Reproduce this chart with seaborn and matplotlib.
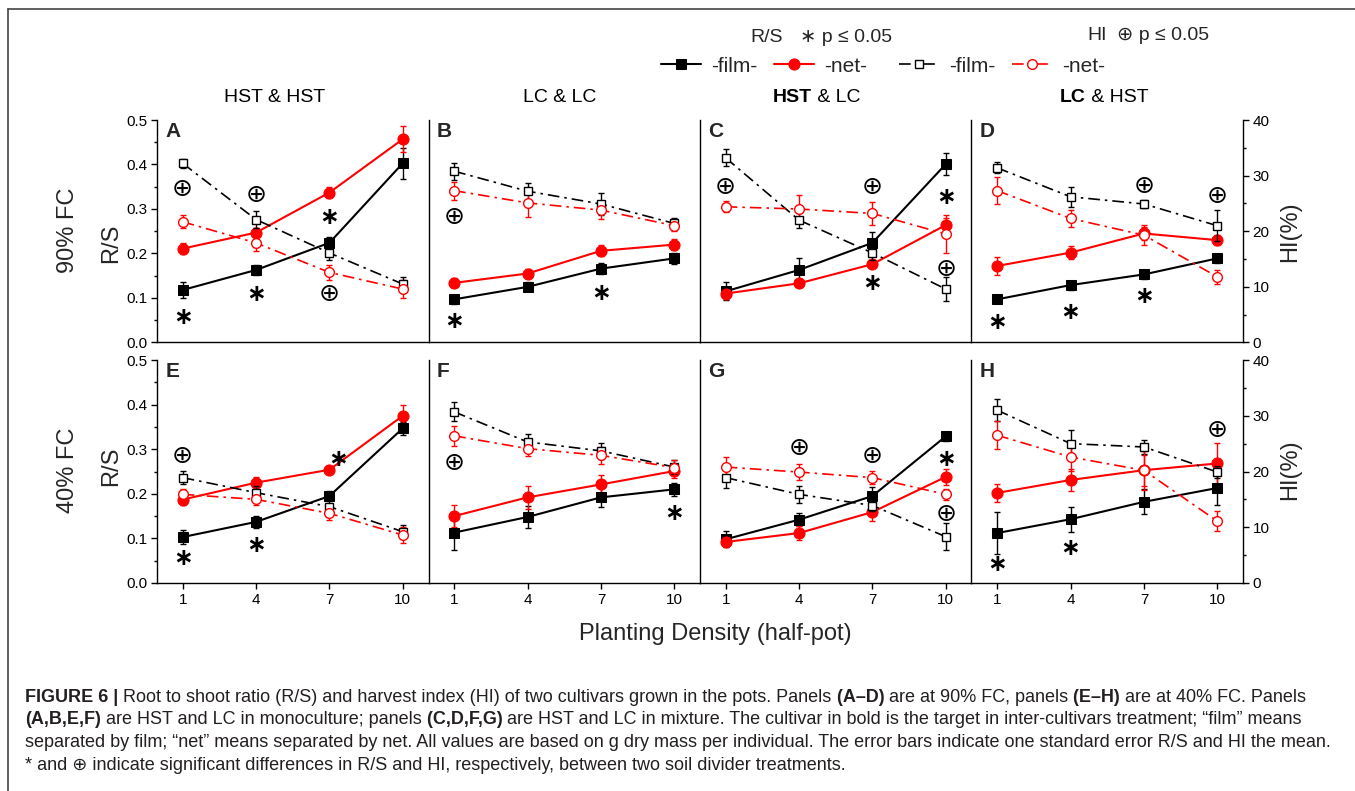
import seaborn as sns
import matplotlib.pyplot as plt
from matplotlib.lines import Line2D
from matplotlib.ticker import MultipleLocator

# planting density (half-pot) and panels A-H
density = [1, 4, 7, 10]
panel_letters = ["A", "B", "C", "D", "E", "F", "G", "H"]
col_titles = [[("HST & HST", False)], [("LC & LC", False)],
              [("HST", True), (" & LC", False)], [("LC", True), (" & HST", False)]]

# root/shoot ratio, one row per panel
rs_film = [
    [0.118, 0.163, 0.224, 0.403],
    [0.097, 0.125, 0.166, 0.189],
    [0.115, 0.163, 0.224, 0.401],
    [0.097, 0.129, 0.153, 0.189],
    [0.103, 0.137, 0.195, 0.347],
    [0.113, 0.148, 0.192, 0.210],
    [0.098, 0.142, 0.195, 0.329],
    [0.112, 0.143, 0.182, 0.213],
]
rs_film_se = [
    [0.018, 0.012, 0.012, 0.035],
    [0.010, 0.010, 0.012, 0.012],
    [0.020, 0.026, 0.025, 0.025],
    [0.008, 0.010, 0.010, 0.010],
    [0.015, 0.013, 0.012, 0.015],
    [0.038, 0.025, 0.022, 0.015],
    [0.018, 0.015, 0.020, 0.010],
    [0.047, 0.028, 0.028, 0.039],
]
rs_net = [
    [0.211, 0.247, 0.337, 0.457],
    [0.134, 0.155, 0.206, 0.220],
    [0.110, 0.133, 0.176, 0.264],
    [0.172, 0.202, 0.245, 0.230],
    [0.187, 0.225, 0.254, 0.375],
    [0.150, 0.192, 0.221, 0.251],
    [0.092, 0.112, 0.159, 0.238],
    [0.202, 0.231, 0.253, 0.268],
]
rs_net_se = [
    [0.012, 0.010, 0.012, 0.030],
    [0.010, 0.010, 0.012, 0.012],
    [0.010, 0.005, 0.008, 0.015],
    [0.020, 0.015, 0.015, 0.012],
    [0.012, 0.012, 0.008, 0.023],
    [0.025, 0.026, 0.022, 0.015],
    [0.010, 0.015, 0.020, 0.018],
    [0.020, 0.025, 0.035, 0.045],
]

# harvest index (%)
hi_film = [
    [32.2, 22.1, 16.1, 10.5],
    [30.8, 27.2, 24.9, 21.4],
    [33.2, 22.0, 16.1, 9.6],
    [31.4, 26.2, 24.9, 21.0],
    [18.9, 16.2, 13.7, 9.2],
    [30.7, 25.3, 23.7, 20.8],
    [18.9, 15.9, 13.9, 8.3],
    [31.0, 25.0, 24.4, 19.9],
]
hi_film_se = [
    [0.8, 1.6, 1.2, 1.2],
    [1.5, 1.5, 2.0, 1.0],
    [1.5, 1.5, 1.2, 2.2],
    [1.0, 1.8, 0.8, 2.8],
    [1.2, 1.2, 1.2, 1.2],
    [1.7, 1.5, 1.5, 1.2],
    [1.8, 1.5, 1.0, 2.4],
    [2.0, 2.5, 1.3, 1.0],
]
hi_net = [
    [21.7, 17.9, 12.6, 9.6],
    [27.3, 25.1, 23.8, 21.0],
    [24.4, 24.0, 23.2, 19.5],
    [27.3, 22.3, 19.3, 11.8],
    [15.9, 15.0, 12.5, 8.6],
    [26.4, 24.1, 22.9, 20.7],
    [20.8, 19.9, 18.9, 15.9],
    [26.5, 22.6, 20.2, 11.1],
]
hi_net_se = [
    [1.2, 1.4, 1.4, 1.6],
    [1.6, 2.5, 1.6, 1.0],
    [1.0, 2.5, 2.0, 3.5],
    [2.4, 1.5, 1.8, 1.2],
    [1.0, 1.0, 1.2, 1.5],
    [1.8, 1.3, 1.5, 1.3],
    [1.8, 1.5, 1.2, 1.0],
    [2.5, 2.5, 3.5, 1.8],
]

# significance marks (x, y in R/S units)
star_x = [[1, 4, 7], [1, 7], [7, 10], [1, 4, 7], [1, 4, 7.35], [10], [10], [1, 4]]
star_y = [[0.058, 0.110, 0.283], [0.049, 0.112], [0.134, 0.326], [0.046, 0.069, 0.104],
          [0.055, 0.085, 0.279], [0.156], [0.277], [0.042, 0.079]]
plus_x = [[1, 4, 7], [1], [1, 7, 10], [7, 10], [1], [1], [4, 7, 10], [10]]
plus_y = [[0.344, 0.331, 0.108], [0.281], [0.350, 0.350, 0.166], [0.352, 0.329],
          [0.284], [0.268], [0.302, 0.284, 0.154], [0.344]]

caption = [
    [("FIGURE 6 |", True), (" Root to shoot ratio (R/S) and harvest index (HI) of two cultivars grown in the pots. Panels", False),
     (" (A–D)", True), (" are at 90% FC, panels", False), (" (E–H)", True), (" are at 40% FC. Panels", False)],
    [("(A,B,E,F)", True), (" are HST and LC in monoculture; panels", False), (" (C,D,F,G)", True),
     (" are HST and LC in mixture. The cultivar in bold is the target in inter-cultivars treatment; “film” means", False)],
    [("separated by film; “net” means separated by net. All values are based on g dry mass per individual. "
      "The error bars indicate one standard error R/S and HI the mean.", False)],
    [("* and ⊕ indicate significant differences in R/S and HI, respectively, between two soil divider treatments.", False)],
]

sns.set_theme(style="ticks")
plt.rcParams["font.family"] = ["Liberation Sans", "DejaVu Sans"]
plt.rcParams["axes.linewidth"] = 1.0

W, H = 1355, 791
fig = plt.figure(figsize=(W / 100, H / 100), dpi=100)
renderer = fig.canvas.get_renderer()


def fx(px):
    return px / W


def fy(py):
    return 1 - py / H


def put_runs(x, y, runs, size, ha="left", color="black"):
    texts = [fig.text(0, y, s, fontsize=size, fontweight="bold" if b else "normal",
                      va="center", color=color) for s, b in runs]
    widths = [t.get_window_extent(renderer).width / W for t in texts]
    x0 = x - sum(widths) / 2 if ha == "center" else x
    for t, w in zip(texts, widths):
        t.set_x(x0)
        x0 += w


dashdot = (0, (7, 3, 1.5, 3))
left0, panel_w = 157, 271.5
rows = [(120, 342.5), (360, 583)]
handles = None

for i in range(8):
    r, c = divmod(i, 4)
    top, bot = rows[r]
    ax = fig.add_axes([fx(left0 + c * panel_w), fy(bot), fx(panel_w), (bot - top) / H])
    ax2 = ax.twinx()

    # R/S on left scale
    ax.errorbar(density, rs_film[i], yerr=rs_film_se[i], fmt="none", ecolor="black",
                elinewidth=1, capsize=2, capthick=1)
    ax.errorbar(density, rs_net[i], yerr=rs_net_se[i], fmt="none", ecolor="red",
                elinewidth=1, capsize=2, capthick=1)
    sns.lineplot(x=density, y=rs_film[i], ax=ax, color="black", marker="s", markersize=7,
                 markeredgecolor="black", linewidth=1.5, sort=False, errorbar=None)
    h1 = ax.lines[-1]
    sns.lineplot(x=density, y=rs_net[i], ax=ax, color="red", marker="o", markersize=8,
                 markeredgecolor="red", linewidth=1.5, sort=False, errorbar=None)
    h2 = ax.lines[-1]

    # HI on right scale
    ax2.errorbar(density, hi_film[i], yerr=hi_film_se[i], fmt="none", ecolor="black",
                 elinewidth=1, capsize=2, capthick=1)
    ax2.errorbar(density, hi_net[i], yerr=hi_net_se[i], fmt="none", ecolor="red",
                 elinewidth=1, capsize=2, capthick=1)
    sns.lineplot(x=density, y=hi_film[i], ax=ax2, color="black", linestyle=dashdot, marker="s",
                 markersize=6, markerfacecolor="white", markeredgecolor="black",
                 markeredgewidth=1, linewidth=1.2, sort=False, errorbar=None)
    h3 = ax2.lines[-1]
    sns.lineplot(x=density, y=hi_net[i], ax=ax2, color="red", linestyle=dashdot, marker="o",
                 markersize=7, markerfacecolor="white", markeredgecolor="red",
                 markeredgewidth=1, linewidth=1.2, sort=False, errorbar=None)
    h4 = ax2.lines[-1]
    if handles is None:
        handles = [h1, h2, h3, h4]

    for sx, sy in zip(star_x[i], star_y[i]):
        ax.text(sx, sy, "∗", fontsize=17, fontweight="bold", ha="center", va="center",
                family="DejaVu Sans", color="black", zorder=5)
    for px_, py_ in zip(plus_x[i], plus_y[i]):
        ax.text(px_, py_, "⊕", fontsize=18, ha="center", va="center",
                family="DejaVu Sans", color="black", zorder=5)

    ax.set_xlim(-0.05, 11.05)
    ax.set_ylim(0, 0.5)
    ax2.set_ylim(0, 40)
    ax.set_xlabel("")
    ax.set_ylabel("")
    for s in ["top", "right"]:
        ax.spines[s].set_visible(False)
    for s in ["top", "bottom", "left"]:
        ax2.spines[s].set_visible(False)
    ax.spines["left"].set_color("black")
    ax.spines["bottom"].set_color("black")

    if c == 0:
        ax.set_yticks([0, 0.1, 0.2, 0.3, 0.4, 0.5])
        ax.set_yticklabels(["0.0", "0.1", "0.2", "0.3", "0.4", "0.5"])
        ax.yaxis.set_minor_locator(MultipleLocator(0.05))
    else:
        ax.set_yticks([])
    if c == 3:
        ax2.set_yticks([0, 10, 20, 30, 40])
        ax2.yaxis.set_minor_locator(MultipleLocator(5))
        ax2.spines["right"].set_color("black")
    else:
        ax2.set_yticks([])
        ax2.spines["right"].set_visible(False)
    if r == 1:
        ax.set_xticks(density)
        ax.set_xticklabels([str(d) for d in density])
    else:
        ax.set_xticks([])
    for a in (ax, ax2):
        a.tick_params(which="major", length=4, width=1, labelsize=11, colors="black", pad=3)
        a.tick_params(which="minor", length=2.5, width=1, colors="black")

    ax.text(0.03, 0.99, panel_letters[i], transform=ax.transAxes, ha="left", va="top",
            fontsize=15, fontweight="bold")

# column titles
title_x = [275, 560, 817, 1104]
for c in range(4):
    put_runs(fx(title_x[c]), fy(97), col_titles[c], 14, ha="center")

# row and axis labels
for label, yc, yrs, yhi in [("90% FC", 230, 243, 232), ("40% FC", 470, 466, 470)]:
    fig.text(fx(68), fy(yc), label, rotation=90, fontsize=17, ha="center", va="center")
    fig.text(fx(111), fy(yrs), "R/S", rotation=90, fontsize=17, ha="center", va="center")
    fig.text(fx(1290), fy(yhi), "HI(%)", rotation=90, fontsize=17, ha="center", va="center")
fig.text(fx(715), fy(634), "Planting Density (half-pot)", fontsize=17, ha="center", va="center")

# legend
fig.text(fx(750), fy(38), "R/S", fontsize=14, va="center")
fig.text(fx(800), fy(38), "∗ p ≤ 0.05", fontsize=14, va="center")
fig.text(fx(1087), fy(36), "HI", fontsize=14, va="center")
fig.text(fx(1117), fy(36), "⊕ p ≤ 0.05", fontsize=14, va="center")
leg_kw = dict(loc="center", ncol=2, frameon=False, fontsize=15, handlelength=1.9,
              handletextpad=0.5, columnspacing=0.8, borderpad=0, borderaxespad=0)
fig.legend(handles=handles[:2], labels=["-film-", "-net-"], bbox_to_anchor=(fx(764), fy(66)), **leg_kw)
fig.legend(handles=handles[2:], labels=["-film-", "-net-"], bbox_to_anchor=(fx(1002), fy(66)), **leg_kw)

# caption
for k, runs in enumerate(caption):
    put_runs(fx(25), fy(697 + 22.7 * k), runs, 13, color="#231f20")

# outer frame
fig.add_artist(Line2D([fx(8), fx(8)], [fy(9), 0], color="#444444", lw=1.2))
fig.add_artist(Line2D([fx(8), 1], [fy(9), fy(9)], color="#444444", lw=1.2))

fig.savefig("out.png", dpi=100)
